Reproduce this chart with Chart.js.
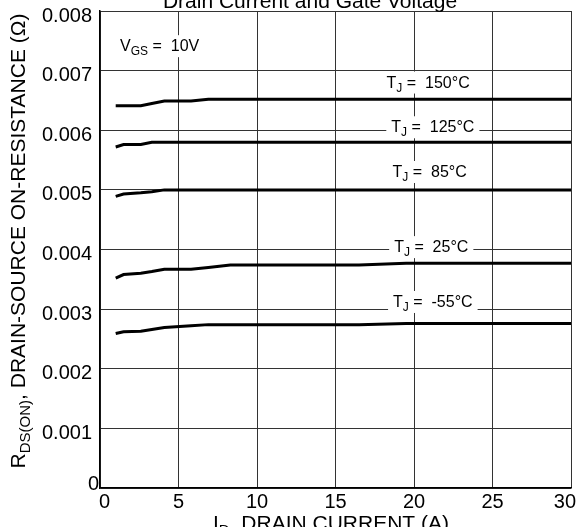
<!DOCTYPE html>
<html>
<head>
<meta charset="utf-8">
<script src="https://cdn.jsdelivr.net/npm/chart.js@4.4.1/dist/chart.umd.min.js"></script>
<style>
  html, body { margin: 0; padding: 0; background: #fff; }
  canvas { display: block; }
</style>
</head>
<body>
<canvas id="chart" width="577" height="527"></canvas>
<script>
// drain current (A), shared by all curves
const current = [1, 1.5, 2.6, 3.3, 4.1, 5.8, 6.9, 8.3, 16.5, 19.5, 30];

// on-resistance (ohm) per junction temperature
const r150 = [0.00641, 0.00641, 0.00641, 0.00645, 0.00649, 0.00649, 0.00652, 0.00652, 0.00652, 0.00652, 0.00652];
const r125 = [0.00572, 0.00576, 0.00576, 0.00580, 0.00580, 0.00580, 0.00580, 0.00580, 0.00580, 0.00580, 0.00580];
const r85 = [0.00489, 0.00493, 0.00495, 0.00497, 0.00500, 0.00500, 0.00500, 0.00500, 0.00500, 0.00500, 0.00500];
const r25 = [0.00352, 0.00358, 0.00360, 0.00363, 0.00367, 0.00367, 0.00370, 0.00374, 0.00374, 0.00377, 0.00377];
const rm55 = [0.00259, 0.00262, 0.00263, 0.00266, 0.00269, 0.00272, 0.00274, 0.00274, 0.00274, 0.00276, 0.00276];

const tempLabels = ['150°C', '125°C', '85°C', '25°C', '-55°C'];
const labelX = [20.9, 21.2, 21.0, 21.1, 21.2];
const labelY = [0.0068, 0.00605, 0.0053, 0.00404, 0.00312];

const xTicks = [0, 5, 10, 15, 20, 25, 30];
const yTicks = [0, 0.001, 0.002, 0.003, 0.004, 0.005, 0.006, 0.007, 0.008];

const FONT = "'Liberation Sans', Arial, sans-serif";

function pts(ys) {
  return current.map((x, i) => ({ x: x, y: ys[i] }));
}

// draw text made of normal and subscript parts, starting at x
function richWidth(ctx, parts, size, subSize) {
  let w = 0;
  parts.forEach(p => {
    ctx.font = (p.sub ? subSize : size) + 'px ' + FONT;
    w += ctx.measureText(p.t).width;
  });
  return w;
}
function drawRich(ctx, parts, x, y, size, subSize, subDrop) {
  parts.forEach(p => {
    ctx.font = (p.sub ? subSize : size) + 'px ' + FONT;
    ctx.fillText(p.t, x, p.sub ? y + subDrop : y);
    x += ctx.measureText(p.t).width;
  });
}

const textPlugin = {
  id: 'texts',
  afterDatasetsDraw(chart) {
    const ctx = chart.ctx;
    const xs = chart.scales.x, ys = chart.scales.y;
    const area = chart.chartArea;
    ctx.save();
    ctx.fillStyle = '#000';
    ctx.textAlign = 'left';
    ctx.textBaseline = 'alphabetic';

    // boxed labels inside the plot
    const boxed = [{ parts: [{ t: 'V' }, { t: 'GS', sub: true }, { t: ' =  10V' }], x: 3.8, y: 0.00741 }];
    tempLabels.forEach((t, i) => {
      boxed.push({ parts: [{ t: 'T' }, { t: 'J', sub: true }, { t: ' =  ' + t }], x: labelX[i], y: labelY[i] });
    });
    boxed.forEach(b => {
      const w = richWidth(ctx, b.parts, 16, 12);
      const cx = xs.getPixelForValue(b.x);
      const cy = ys.getPixelForValue(b.y);
      ctx.fillStyle = '#fff';
      ctx.fillRect(cx - w / 2 - 5, cy - 11, w + 10, 22);
      ctx.fillStyle = '#000';
      drawRich(ctx, b.parts, cx - w / 2, cy + 5, 16, 12, 4);
    });

    // tick labels (drawn by hand: the source sets them slightly off the grid)
    ctx.font = '20px ' + FONT;
    ctx.textBaseline = 'middle';
    ctx.textAlign = 'right';
    yTicks.forEach(v => {
      const py = ys.getPixelForValue(v);
      if (v === 0) {
        ctx.fillText('0', area.left - 1, py - 4);
      } else {
        ctx.fillText(v.toFixed(3), area.left - 8, py + 5);
      }
    });
    ctx.textAlign = 'center';
    xTicks.forEach(v => {
      const s = String(v);
      const w = ctx.measureText(s).width;
      let px = xs.getPixelForValue(v);
      px = Math.max(px, area.left + w / 2 - 1);
      px = Math.min(px, chart.width - 1 - w / 2);
      ctx.fillText(s, px, area.bottom + 14);
    });

    // clipped title at the top
    ctx.textBaseline = 'alphabetic';
    ctx.font = '21px ' + FONT;
    ctx.fillText('Drain Current and Gate Voltage', 310, 8);
    ctx.textAlign = 'left';

    // x axis title
    const xt = [{ t: 'I' }, { t: 'D', sub: true }, { t: ', DRAIN CURRENT (A)' }];
    const xw = richWidth(ctx, xt, 21, 15);
    drawRich(ctx, xt, 331 - xw / 2, 530, 21, 15, 5);

    // y axis title
    const yt = [{ t: 'R' }, { t: 'DS(ON)', sub: true }, { t: ', DRAIN-SOURCE ON-RESISTANCE (Ω)' }];
    const yw = richWidth(ctx, yt, 21, 15);
    ctx.translate(25, 241);
    ctx.rotate(-Math.PI / 2);
    drawRich(ctx, yt, -yw / 2, 0, 21, 15, 5);
    ctx.restore();
  }
};

const series = [r150, r125, r85, r25, rm55];

new Chart(document.getElementById('chart'), {
  type: 'line',
  data: {
    datasets: series.map((s, i) => ({
      label: tempLabels[i],
      data: pts(s),
      borderColor: '#000',
      borderWidth: 3,
      pointRadius: 0,
      tension: 0,
      fill: false
    }))
  },
  options: {
    responsive: false,
    animation: false,
    devicePixelRatio: 1,
    layout: { padding: { top: 11, right: 6, left: 0, bottom: 0 } },
    plugins: { legend: { display: false }, tooltip: { enabled: false } },
    scales: {
      x: {
        type: 'linear',
        min: 0,
        max: 30,
        afterBuildTicks: s => { s.ticks = xTicks.map(v => ({ value: v })); },
        afterFit: s => { s.height = 39; s.paddingLeft = 0; s.paddingRight = 0; },
        ticks: { display: false },
        grid: { color: '#333', lineWidth: 1, drawTicks: false },
        border: { color: '#000', width: 1.5 }
      },
      y: {
        min: 0,
        max: 0.008,
        afterBuildTicks: s => { s.ticks = yTicks.map(v => ({ value: v })); },
        afterFit: s => { s.width = 100; s.paddingTop = 0; s.paddingBottom = 0; },
        ticks: { display: false },
        grid: { color: '#333', lineWidth: 1, drawTicks: false },
        border: { color: '#000', width: 1.5 }
      }
    }
  },
  plugins: [textPlugin]
});
</script>
</body>
</html>
